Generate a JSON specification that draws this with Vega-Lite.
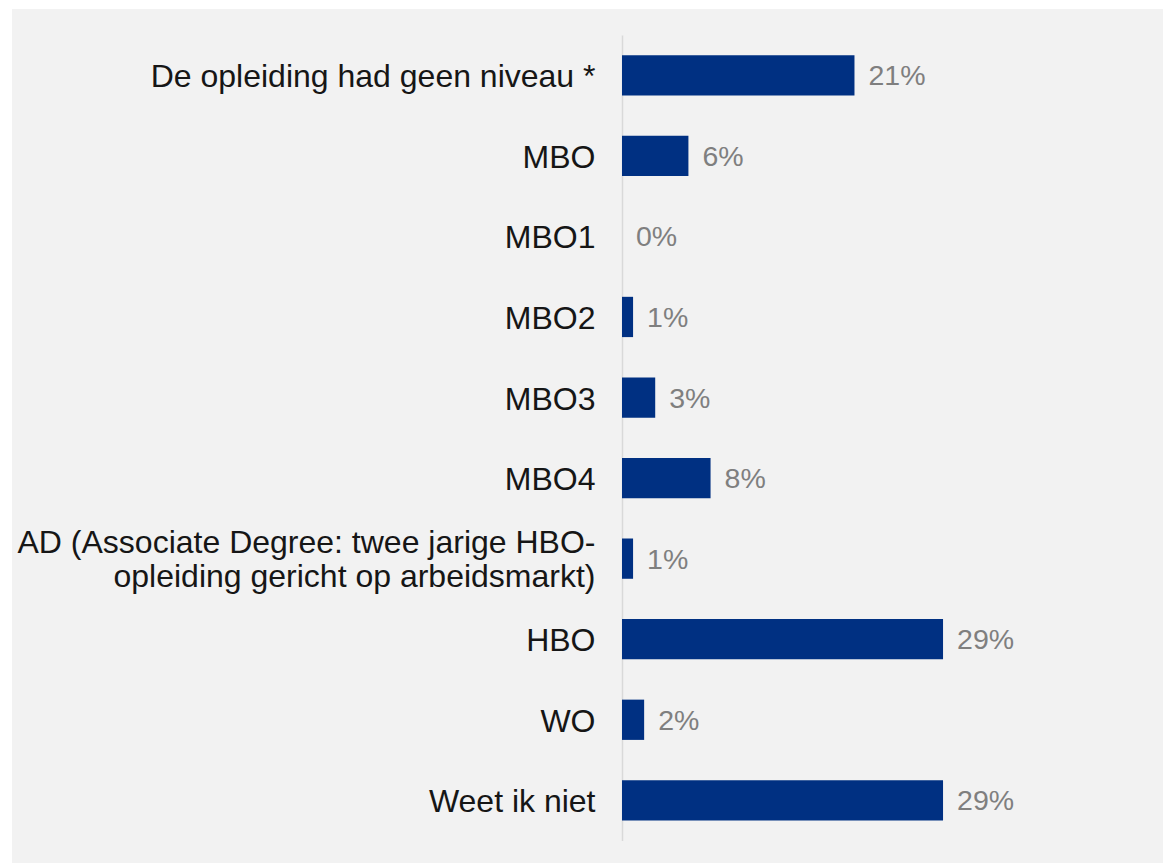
{
  "$schema": "https://vega.github.io/schema/vega-lite/v6.json",
  "autosize": "none",
  "width": 1151,
  "height": 854,
  "padding": {"left": 12, "top": 9, "right": 0, "bottom": 0},
  "background": "#ffffff",
  "config": {
    "view": {"fill": "#f2f2f2", "stroke": null},
    "font": "Liberation Sans"
  },
  "data": {
    "values": [
      {"categorie": "De opleiding had geen niveau *", "aandeel": 0.21},
      {"categorie": "MBO", "aandeel": 0.06},
      {"categorie": "MBO1", "aandeel": 0.0},
      {"categorie": "MBO2", "aandeel": 0.01},
      {"categorie": "MBO3", "aandeel": 0.03},
      {"categorie": "MBO4", "aandeel": 0.08},
      {"categorie": "AD (Associate Degree: twee jarige HBO-opleiding gericht op arbeidsmarkt)", "aandeel": 0.01},
      {"categorie": "HBO", "aandeel": 0.29},
      {"categorie": "WO", "aandeel": 0.02},
      {"categorie": "Weet ik niet", "aandeel": 0.29}
    ]
  },
  "encoding": {
    "y": {
      "field": "categorie",
      "type": "nominal",
      "sort": null,
      "scale": {"range": [26, 831.6], "paddingInner": 0.5, "paddingOuter": 0.25},
      "axis": {
        "title": null,
        "offset": -610,
        "ticks": false,
        "domainColor": "#d9d9d9",
        "domainWidth": 1.5,
        "labelFontSize": 32,
        "labelColor": "#161616",
        "labelPadding": 27,
        "labelLimit": 800,
        "labelLineHeight": 34,
        "labelFont": "Liberation Sans",
        "labelOffset": {"condition": {"test": "indexof(datum.label, 'HBO-opleiding') > 0", "value": -16}, "value": 2},
        "labelExpr": "indexof(datum.label, 'HBO-opleiding') > 0 ? ['AD (Associate Degree: twee jarige HBO-', 'opleiding gericht op arbeidsmarkt)'] : datum.label"
      }
    },
    "x": {
      "field": "aandeel",
      "type": "quantitative",
      "scale": {"domain": [0, 0.4887], "range": [610, 1151], "nice": false, "zero": true},
      "axis": null
    }
  },
  "layer": [
    {"mark": {"type": "bar", "color": "#003082"}},
    {
      "mark": {"type": "text", "align": "left", "baseline": "middle", "dx": 14, "dy": 1, "fontSize": 28.5, "color": "#7f7f7f", "font": "Liberation Sans"},
      "encoding": {"text": {"field": "aandeel", "type": "quantitative", "format": ".0%"}}
    }
  ]
}
